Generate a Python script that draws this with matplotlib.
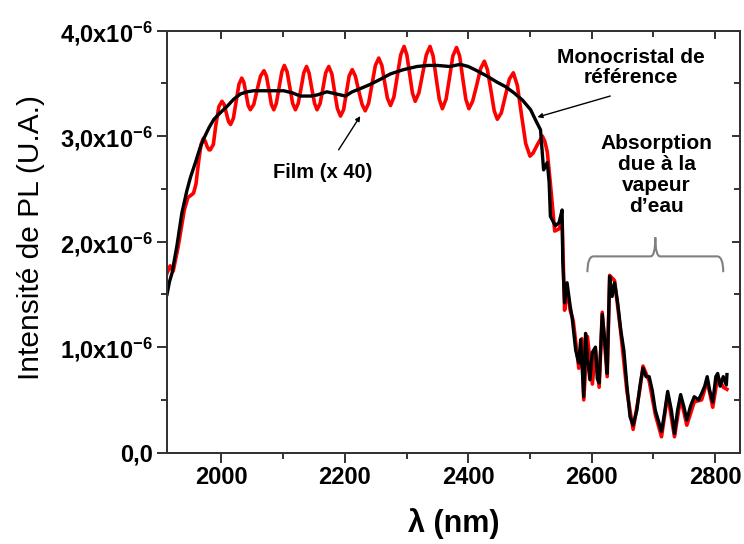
import numpy as np
import matplotlib
matplotlib.use("Agg")
import matplotlib.pyplot as plt
from matplotlib.path import Path
from matplotlib.patches import PathPatch

plt.rcParams['font.family'] = ['Liberation Sans', 'DejaVu Sans']
plt.rcParams['mathtext.fontset'] = 'custom'
plt.rcParams['mathtext.rm'] = 'Liberation Sans:bold'
plt.rcParams['mathtext.default'] = 'rm'

# Monocristal de reference (black), lambda in nm, intensity in 1e-6
mono_wl = [1912, 1916, 1920, 1928, 1936, 1944, 1950, 1958, 1965, 1971, 1980, 1988,
           1998, 2009, 2020, 2031, 2042, 2052, 2075, 2101, 2115, 2128, 2145, 2155,
           2171, 2186, 2201, 2212, 2225, 2241, 2258, 2274, 2295, 2317, 2335, 2350,
           2370, 2387, 2400, 2414, 2430, 2447, 2460, 2474, 2488, 2501, 2510, 2517,
           2522, 2528, 2531, 2533, 2541, 2547, 2552, 2553, 2556, 2560, 2565, 2568,
           2574, 2579, 2582, 2587, 2590, 2593, 2597, 2601, 2606, 2609, 2612, 2617,
           2621, 2625, 2629, 2633, 2637, 2642, 2647, 2652, 2657, 2662, 2667, 2673,
           2678, 2683, 2688, 2693, 2698, 2703, 2709, 2713, 2717, 2723, 2729, 2734,
           2739, 2744, 2749, 2754, 2760, 2766, 2773, 2778, 2783, 2787, 2791, 2796,
           2801, 2804, 2808, 2813, 2818, 2819]
mono_val = [1.50, 1.62, 1.70, 1.96, 2.27, 2.48, 2.61, 2.75, 2.88, 2.97, 3.08, 3.16,
            3.22, 3.28, 3.35, 3.40, 3.42, 3.43, 3.43, 3.43, 3.41, 3.38, 3.38, 3.39,
            3.42, 3.40, 3.38, 3.42, 3.45, 3.49, 3.54, 3.59, 3.63, 3.66, 3.67, 3.67,
            3.66, 3.68, 3.66, 3.62, 3.57, 3.51, 3.47, 3.41, 3.34, 3.25, 3.14, 3.06,
            2.68, 2.75, 2.56, 2.24, 2.15, 2.18, 2.30, 1.83, 1.42, 1.61, 1.39, 1.29,
            0.97, 0.85, 1.07, 0.53, 1.13, 0.90, 0.69, 0.95, 1.00, 0.70, 0.66, 1.31,
            1.07, 0.75, 1.67, 1.48, 1.61, 1.42, 1.16, 0.97, 0.63, 0.34, 0.26, 0.40,
            0.63, 0.80, 0.72, 0.72, 0.59, 0.40, 0.28, 0.20, 0.34, 0.58, 0.40, 0.18,
            0.40, 0.55, 0.44, 0.31, 0.44, 0.53, 0.50, 0.56, 0.63, 0.72, 0.59, 0.48,
            0.72, 0.75, 0.63, 0.72, 0.64, 0.74]

# Film x 40 (red), interference fringes read peak / shoulder / mid / shoulder / trough
film_wl = [1912, 1917, 1922, 1930, 1940, 1946, 1951, 1955,
           1959, 1963, 1967, 1971, 1974, 1977, 1980, 1982,
           1987, 1991, 1996, 2001, 2004.5, 2008, 2011.5, 2015,
           2019.5, 2024, 2028.5, 2033, 2036.5, 2040, 2043.5, 2047,
           2052.5, 2058, 2063.5, 2069, 2073, 2077, 2081, 2085,
           2089, 2093.5, 2098, 2102, 2106.5, 2111, 2115.5, 2120,
           2124.5, 2129, 2133.5, 2138, 2142, 2146.5, 2151, 2155,
           2160, 2164.5, 2169, 2174, 2179, 2183.5, 2188, 2193,
           2198, 2202.5, 2207, 2212, 2217, 2222.5, 2228, 2233,
           2238.5, 2244, 2249.5, 2255, 2260, 2264.5, 2269, 2274,
           2279.5, 2285, 2290.5, 2296, 2300.5, 2305, 2309.5, 2314,
           2320, 2326, 2332, 2338, 2343, 2348, 2353, 2358,
           2364, 2369.5, 2375, 2381, 2386, 2391, 2396, 2401,
           2407, 2413.5, 2420, 2426, 2431, 2436.5, 2442, 2447,
           2453.5, 2460, 2466.5, 2473, 2479.5, 2486, 2493, 2500,
           2505, 2512, 2520, 2524, 2528, 2533, 2540, 2547, 2552, 2556,
           2560, 2565, 2570, 2579, 2584, 2587, 2593, 2601, 2606, 2612, 2617, 2625,
           2629, 2637, 2647, 2657, 2667, 2678, 2683, 2693, 2703, 2713, 2723, 2734,
           2744, 2754, 2766, 2778, 2787, 2796, 2804, 2813, 2819]
film_val = [1.70, 1.77, 1.72, 1.95, 2.30, 2.42, 2.44, 2.46,
            2.55, 2.75, 2.92, 2.98, 2.95, 2.90, 2.87, 2.87,
            2.92, 3.10, 3.28, 3.33, 3.30, 3.22, 3.14, 3.11,
            3.17, 3.33, 3.49, 3.55, 3.51, 3.40, 3.29, 3.25,
            3.30, 3.44, 3.57, 3.62, 3.57, 3.44, 3.30, 3.25,
            3.31, 3.46, 3.61, 3.67, 3.61, 3.46, 3.31, 3.25,
            3.31, 3.45, 3.60, 3.66, 3.60, 3.45, 3.31, 3.25,
            3.31, 3.45, 3.60, 3.66, 3.59, 3.42, 3.26, 3.19,
            3.25, 3.41, 3.57, 3.63, 3.57, 3.43, 3.30, 3.24,
            3.31, 3.49, 3.67, 3.74, 3.67, 3.51, 3.36, 3.29,
            3.37, 3.57, 3.77, 3.85, 3.77, 3.59, 3.41, 3.33,
            3.41, 3.59, 3.77, 3.85, 3.76, 3.55, 3.35, 3.26,
            3.35, 3.55, 3.76, 3.84, 3.76, 3.55, 3.35, 3.26,
            3.33, 3.48, 3.64, 3.71, 3.63, 3.44, 3.24, 3.16,
            3.22, 3.38, 3.54, 3.60, 3.48, 3.21, 2.93, 2.81,
            2.84, 2.92, 3.00, 2.95, 2.85, 2.55, 2.10, 2.12, 2.20, 1.35,
            1.55, 1.35, 1.25, 0.80, 1.08, 0.50, 1.10, 0.65, 0.97, 0.62, 1.33, 0.72,
            1.68, 1.63, 1.14, 0.58, 0.22, 0.60, 0.82, 0.68, 0.36, 0.15, 0.55, 0.15,
            0.52, 0.26, 0.48, 0.50, 0.68, 0.43, 0.72, 0.62, 0.60]

x_ticks = [2000, 2200, 2400, 2600, 2800]
x_minor = [2100, 2300, 2500, 2700]
y_ticks = [0, 1e-6, 2e-6, 3e-6, 4e-6]
y_minor = [0.5e-6, 1.5e-6, 2.5e-6, 3.5e-6]
y_labels = ['0,0', '1,0x10$^{-6}$', '2,0x10$^{-6}$', '3,0x10$^{-6}$', '4,0x10$^{-6}$']

fig = plt.figure(figsize=(7.44, 5.44), dpi=100)
ax = fig.add_axes([0.2245, 0.168, 0.770, 0.7757])

ax.plot(film_wl, np.array(film_val) * 1e-6, color='#ff0000', lw=2.6, solid_joinstyle='round')
ax.plot(mono_wl, np.array(mono_val) * 1e-6, color='black', lw=2.4, solid_joinstyle='round')

xlim = (1912, 2840)
ylim = (0, 4e-6)
ax.set_xlim(*xlim)
ax.set_ylim(*ylim)
ax.set_xticks(x_ticks)
ax.set_xticks(x_minor, minor=True)
ax.set_yticks(y_ticks)
ax.set_yticklabels(y_labels)
ax.set_yticks(y_minor, minor=True)
ax.tick_params(which='both', direction='out', width=1.3, color='#222222',
               labelsize=17, pad=3)
ax.tick_params(which='major', length=7)
ax.tick_params(which='minor', length=4)
for lab in ax.get_xticklabels() + ax.get_yticklabels():
    lab.set_fontweight('bold')
for s in ax.spines.values():
    s.set_linewidth(1.3)
    s.set_color('#333333')

# inward ticks on top and right (twin axes, no labels)
axt = ax.twiny()
axt.set_xlim(*xlim)
axt.set_xticks(x_ticks)
axt.set_xticks(x_minor, minor=True)
axt.tick_params(axis='x', which='both', direction='in', labeltop=False,
                width=1.3, color='#222222')
axt.tick_params(axis='x', which='major', length=6)
axt.tick_params(axis='x', which='minor', length=4)
axr = ax.twinx()
axr.set_ylim(*ylim)
axr.set_yticks(y_ticks)
axr.set_yticks(y_minor, minor=True)
axr.tick_params(axis='y', which='both', direction='in', labelright=False,
                width=1.3, color='#222222')
axr.tick_params(axis='y', which='major', length=6)
axr.tick_params(axis='y', which='minor', length=4)
for a in (axt, axr):
    for s in a.spines.values():
        s.set_linewidth(1.3)
        s.set_color('#333333')

ax.set_ylabel('Intensité de PL (U.A.)', fontsize=21.5)
ax.yaxis.set_label_coords(-0.213, 0.51)
ax.set_xlabel('λ (nm)', fontsize=22, fontweight='bold')
ax.xaxis.set_label_coords(0.5, -0.131)

# annotations
ax.text(2663, 3.65e-6, 'Monocristal de\nréférence', ha='center', va='center',
        fontsize=15, fontweight='bold', linespacing=1.12)
ax.annotate('', xy=(2512, 3.18e-6), xytext=(2630, 3.38e-6),
            arrowprops=dict(arrowstyle='-|>', color='black', lw=1.0,
                            mutation_scale=7, shrinkA=0, shrinkB=0))
ax.text(2164, 2.655e-6, 'Film (x 40)', ha='center', va='center',
        fontsize=14.5, fontweight='bold')
ax.annotate('', xy=(2225, 3.19e-6), xytext=(2190, 2.87e-6),
            arrowprops=dict(arrowstyle='-|>', color='black', lw=1.0,
                            mutation_scale=7, shrinkA=0, shrinkB=0))
ax.text(2705, 2.63e-6, 'Absorption\ndue à la\nvapeur\nd\u2019eau', ha='center', va='center',
        fontsize=15, fontweight='bold', linespacing=1.12)

# curly brace over the water vapour region
bx0, bx1, bxm = 2593, 2813, 2703
by0, by1, bym = 1.71e-6, 1.86e-6, 2.04e-6
verts = [(bx0, by0), (bx0, by1), (bx0 + 10, by1),
         (bxm - 8, by1), (bxm, by1), (bxm, bym),
         (bxm, by1), (bxm + 8, by1),
         (bx1 - 10, by1), (bx1, by1), (bx1, by0)]
codes = [Path.MOVETO, Path.CURVE3, Path.CURVE3,
         Path.LINETO, Path.CURVE3, Path.CURVE3,
         Path.CURVE3, Path.CURVE3,
         Path.LINETO, Path.CURVE3, Path.CURVE3]
ax.add_patch(PathPatch(Path(verts, codes), fill=False, edgecolor='#808080', lw=1.5))

fig.savefig('out.png', dpi=100)
